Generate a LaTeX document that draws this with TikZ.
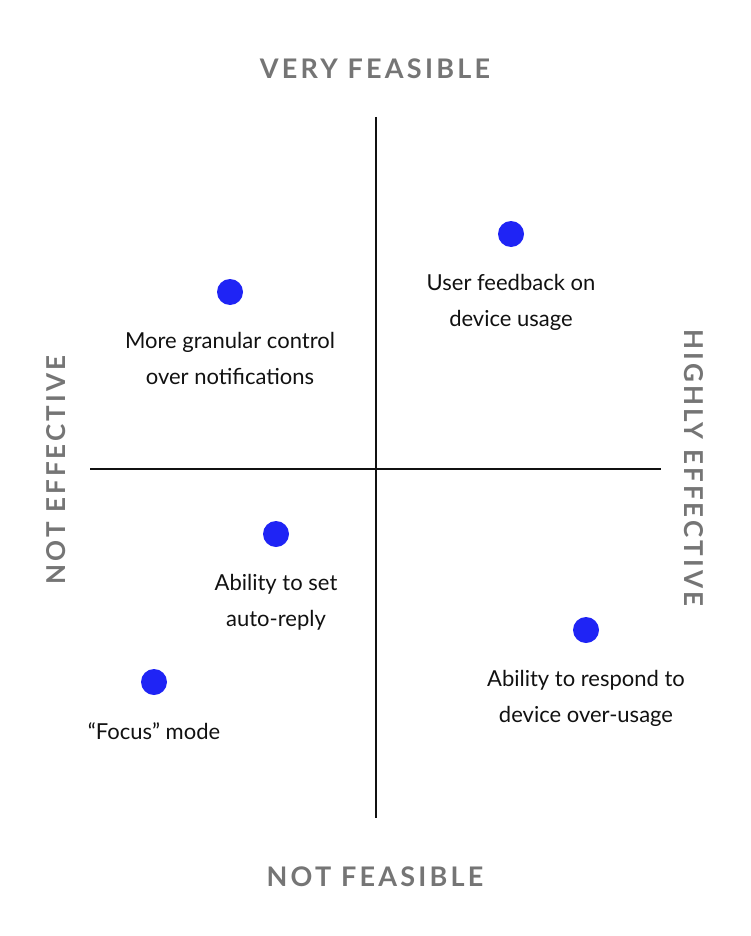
\documentclass[tikz,border=0pt]{standalone}
\usepackage{fontspec}
\setmainfont{Lato}
\usetikzlibrary{positioning}
\definecolor{ink}{HTML}{111111}
\definecolor{axl}{HTML}{757575}
\definecolor{dotc}{HTML}{1F24F5}
\newfontfamily\axfont[LetterSpace=12]{Lato Bold}
\tikzset{
  ax/.style ={line width=1.3pt,ink},
  pt/.style ={circle,fill=dotc,minimum size=26pt,inner sep=0pt},
  lbl/.style={font=\fontsize{22}{36}\selectfont,text=ink,align=center,inner sep=0pt},
  ttl/.style={font=\axfont\fontsize{27}{30}\selectfont,text=axl,inner sep=0pt},
  vttl/.style={ttl,font=\axfont\fontsize{26}{30}\selectfont},
}
\begin{document}
\begin{tikzpicture}[x=1pt,y=-1pt]
\useasboundingbox (0,0) rectangle (750,936);
% axes
\coordinate (top) at (376,117); \coordinate (bot) at (376,818);
\coordinate (lft) at (90,469);  \coordinate (rgt) at (661,469);
\draw[ax] (top) -- (bot);
\draw[ax] (lft) -- (rgt);
% axis titles
\node[ttl] (vf) at (375,69) {VERY FEASIBLE};
\node[ttl] (nf) at (375,877) {NOT FEASIBLE};
\node[vttl,rotate=90] (ne) at (56,470) {NOT EFFECTIVE};
\node[vttl,rotate=-90] (he) at (694,468) {HIGHLY EFFECTIVE};
% ideas
\node[pt] (p1) at (511,234) {};
\node[lbl,below=27pt of p1] (l1) {User feedback on\\device usage};
\node[pt] (p2) at (230,292) {};
\node[lbl,below=27pt of p2] (l2) {More granular control\\over notifications};
\node[pt] (p3) at (276,534) {};
\node[lbl,below=27pt of p3] (l3) {Ability to set\\auto-reply};
\node[pt] (p4) at (586,630) {};
\node[lbl,below=27pt of p4] (l4) {Ability to respond to\\device over-usage};
\node[pt] (p5) at (154,682) {};
\node[lbl,below=27pt of p5] (l5) {“Focus” mode};
\end{tikzpicture}
\end{document}
